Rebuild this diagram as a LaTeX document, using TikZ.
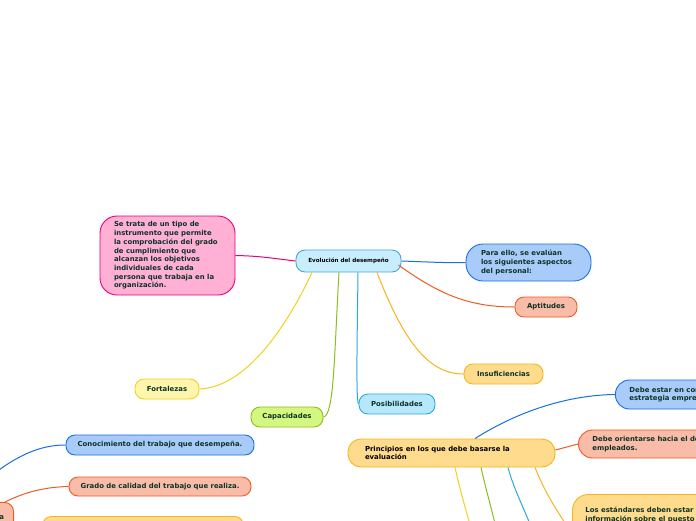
\documentclass[tikz,border=0pt]{standalone}
\usepackage{fontspec}
\setmainfont{DejaVu Sans}
\definecolor{txt}{HTML}{0E3326}
\definecolor{pinkF}{HTML}{FFB0D4}\definecolor{pinkD}{HTML}{E6007A}
\definecolor{blueF}{HTML}{A8CBFA}\definecolor{blueD}{HTML}{1A6FE0}
\definecolor{salF}{HTML}{F9BCA8}\definecolor{salD}{HTML}{F15A24}
\definecolor{yelF}{HTML}{FEDB8D}\definecolor{yelD}{HTML}{F7B51A}
\definecolor{lbF}{HTML}{B6E7FB}\definecolor{lbD}{HTML}{29ABE2}
\definecolor{grF}{HTML}{D4F77F}\definecolor{grD}{HTML}{8CBF1E}
\definecolor{lyF}{HTML}{FFF6AE}\definecolor{lyD}{HTML}{F0D21E}
\definecolor{cenF}{HTML}{C8EEFD}\definecolor{cenD}{HTML}{48A7D6}
\tikzset{
  box/.style={rounded corners=9pt, line width=0.9pt, font=\fontsize{6.9}{8.7}\selectfont\bfseries, text=txt, inner sep=0pt},
  wide/.style={box, align=left, rounded corners=15pt},
  link/.style={line width=1pt},
}
\begin{document}
\begin{tikzpicture}[x=1pt,y=-1pt]
\useasboundingbox (0,0) rectangle (696,520);
\fill[white] (0,0) rectangle (696,520);
\begin{scope}
\clip (0,0) rectangle (696,520);
% central
\node[box, fill=cenF, draw=cenD, minimum width=105pt, minimum height=22pt, font=\fontsize{5.6}{7}\selectfont\bfseries, text=black] (cen) at (348.5,261) {Evolución del desempeño};
% pink
\node[wide, fill=pinkF, draw=pinkD, minimum width=135pt, minimum height=79pt, rounded corners=17pt] (pink) at (167.5,255.5)
  {\parbox{107pt}{\raggedright Se trata de un tipo de\\ instrumento que permite\\ la comprobación del grado\\ de cumplimiento que\\ alcanzan los objetivos\\ individuales de cada\\ persona que trabaja en la\\ organización.}};
\node[wide, fill=blueF, draw=blueD, minimum width=125pt, minimum height=37pt, rounded corners=17pt, font=\fontsize{6.9}{9}\selectfont\bfseries] (para) at (528.5,262.5)
  {\parbox{95pt}{\raggedright Para ello, se evalúan\\ los siguientes aspectos\\ del personal:}};
\node[box, fill=salF, draw=salD, minimum width=62pt, minimum height=20pt] (apt) at (546,307) {Aptitudes};
\node[box, fill=yelF, draw=yelD, minimum width=79pt, minimum height=20pt] (ins) at (503.5,374) {Insuficiencias};
\node[box, fill=lbF, draw=lbD, minimum width=76pt, minimum height=20pt] (pos) at (397,404) {Posibilidades};
\node[box, fill=grF, draw=grD, minimum width=72pt, minimum height=20pt] (cap) at (287,417) {Capacidades};
\node[box, fill=lyF, draw=lyD, minimum width=64pt, minimum height=20pt] (fort) at (167,389) {Fortalezas};

\draw[link, pinkD] (cen.west) .. controls (270,258) and (260,256) .. (pink.east);
\draw[link, blueD] (cen.east) .. controls (430,262) and (445,263) .. (para.west);
\draw[link, salD] ([xshift=-3pt,yshift=-4pt]cen.east) .. controls (440,295) and (470,307) .. (apt.west);
\draw[link, yelD] ([xshift=28.5pt]cen.south) .. controls (405,345) and (430,374) .. (ins.west);
\draw[link, lbD] ([xshift=9.5pt]cen.south) .. controls (357,350) and (356,400) .. (pos.west);
\draw[link, grD] ([xshift=-9.5pt]cen.south) .. controls (334,360) and (334,415) .. (cap.east);
\draw[link, lyD] ([xshift=-36.5pt]cen.south) .. controls (285,330) and (245,387) .. (fort.east);

% principios
\node[wide, fill=yelF, draw=yelD, minimum width=207pt, minimum height=28pt, rounded corners=13pt, text=black] (prin) at (451.5,453)
  {\parbox{173pt}{\raggedright Principios en los que debe basarse la\\ evaluación}};
\node[wide, fill=blueF, draw=blueD, minimum width=160pt, minimum height=29pt, rounded corners=14pt, anchor=west] (cons) at (615,394.5)
  {\hspace*{14pt}\parbox{200pt}{\raggedright Debe estar en consonancia con la\\ estrategia empresarial.}};
\node[wide, fill=salF, draw=salD, minimum width=180pt, minimum height=28pt, rounded corners=14pt, anchor=west] (ori) at (578,444)
  {\hspace*{14pt}\parbox{220pt}{\raggedright Debe orientarse hacia el desempeño de los\\ empleados.}};
\node[wide, fill=yelF, draw=yelD, minimum width=190pt, minimum height=50pt, rounded corners=16pt, anchor=north west] (est) at (572,494)
  {\hspace*{13pt}\parbox{200pt}{\raggedright Los estándares deben estar basados en\\ información sobre el puesto de trabajo\\ y ser objetivos.}};
\coordinate (d1) at (472,532);
\coordinate (d2) at (497,532);
\coordinate (d3) at (533,532);
\draw[link, blueD] ([xshift=23.5pt]prin.north) .. controls (520,410) and (570,395) .. (cons.west);
\draw[link, salD] ([yshift=3pt]prin.east) -- (ori.west);
\draw[link, yelD] ([xshift=83.5pt]prin.south) .. controls (548,500) and (558,510) .. ([yshift=-16pt]est.west);
\draw[link, lyD] ([xshift=3.5pt]prin.south) .. controls (460,490) and (466,510) .. (d1);
\draw[link, grD] ([xshift=29.5pt]prin.south) .. controls (486,490) and (492,510) .. (d2);
\draw[link, lbD] ([xshift=56.5pt]prin.south) .. controls (514,490) and (525,510) .. (d3);

% left side
\node[box, fill=blueF, draw=blueD, minimum width=188pt, minimum height=20pt] (con) at (160,445) {Conocimiento del trabajo que desempeña.};
\node[box, fill=salF, draw=salD, minimum width=182pt, minimum height=19pt] (gra) at (160,486.5) {Grado de calidad del trabajo que realiza.};
\node[box, fill=salF, draw=salD, minimum width=80pt, minimum height=28pt, anchor=north east, align=right] (eva) at (14,502) {\parbox{70pt}{\raggedleft Se evalúa}\hspace*{9pt}};
\node[box, fill=yelF, draw=yelD, minimum width=201pt, minimum height=30pt, anchor=north west] (bot) at (42,516) {Cumplimiento de los objetivos.};
\coordinate (l0) at (-20,485);
\draw[link, blueD] (l0) .. controls (15,455) and (40,445) .. (con.west);
\draw[link, salD] ([xshift=-9pt]eva.north east) .. controls (25,492) and (45,487) .. (gra.west);
\end{scope}
\end{tikzpicture}
\end{document}
